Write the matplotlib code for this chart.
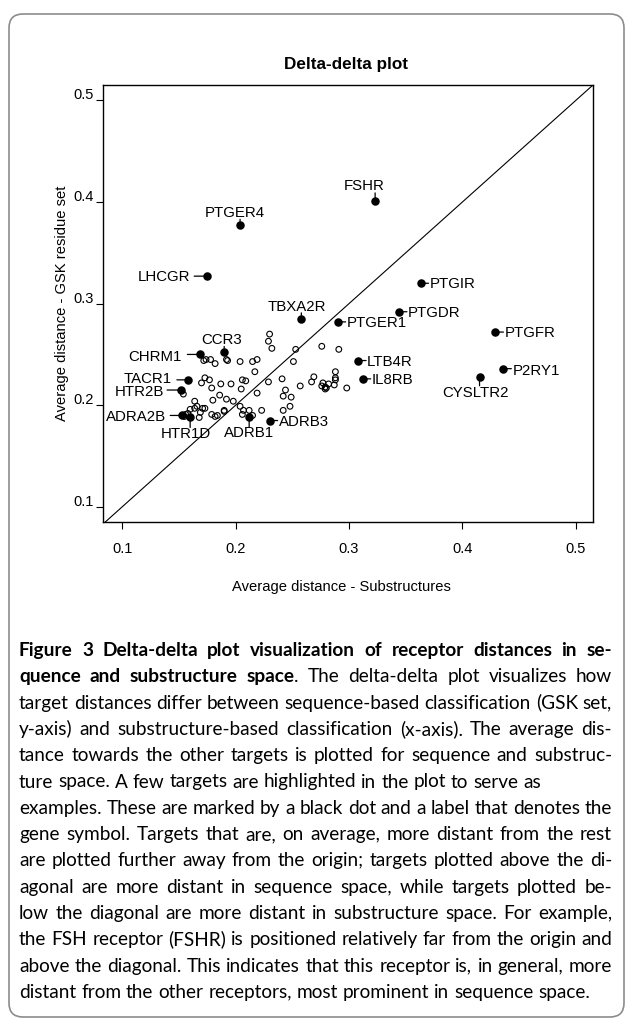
import matplotlib
matplotlib.use("Agg")
import matplotlib.pyplot as plt
from matplotlib.patches import FancyBboxPatch
from matplotlib.transforms import IdentityTransform

# highlighted receptors (x: substructures, y: GSK residue set)
names = ["FSHR", "PTGER4", "LHCGR", "TBXA2R", "CCR3", "CHRM1", "TACR1", "HTR2B",
         "ADRA2B", "HTR1D", "ADRB1", "ADRB3", "PTGER1", "PTGIR", "PTGDR", "PTGFR",
         "LTB4R", "IL8RB", "P2RY1", "CYSLTR2"]
hx = [0.323, 0.204, 0.175, 0.258, 0.190, 0.169, 0.158, 0.152,
      0.153, 0.160, 0.212, 0.230, 0.290, 0.363, 0.344, 0.429,
      0.308, 0.312, 0.436, 0.415]
hy = [0.401, 0.377, 0.327, 0.285, 0.252, 0.250, 0.225, 0.215,
      0.190, 0.188, 0.188, 0.185, 0.282, 0.320, 0.292, 0.272,
      0.244, 0.226, 0.236, 0.228]

# all other receptors
ox = [0.230, 0.229, 0.232, 0.253, 0.276, 0.291, 0.251, 0.172, 0.174, 0.178,
      0.182, 0.192, 0.193, 0.204, 0.215, 0.219, 0.217, 0.173, 0.177, 0.170,
      0.179, 0.187, 0.196, 0.206, 0.209, 0.205, 0.229, 0.241, 0.244, 0.242,
      0.249, 0.257, 0.267, 0.269, 0.276, 0.279, 0.280, 0.282, 0.288, 0.288,
      0.287, 0.298, 0.219, 0.154, 0.164, 0.180, 0.186, 0.192, 0.198, 0.204,
      0.164, 0.160, 0.166, 0.171, 0.173, 0.169, 0.168, 0.156, 0.158, 0.155,
      0.179, 0.182, 0.184, 0.190, 0.190, 0.207, 0.212, 0.215, 0.223, 0.206,
      0.242, 0.248, 0.277, 0.279, 0.288]
oy = [0.270, 0.263, 0.256, 0.255, 0.258, 0.255, 0.243, 0.244, 0.245, 0.245,
      0.241, 0.245, 0.244, 0.243, 0.243, 0.245, 0.233, 0.227, 0.225, 0.222,
      0.217, 0.221, 0.221, 0.225, 0.224, 0.216, 0.223, 0.226, 0.215, 0.209,
      0.208, 0.219, 0.223, 0.228, 0.219, 0.218, 0.217, 0.221, 0.225, 0.233,
      0.220, 0.217, 0.212, 0.211, 0.204, 0.205, 0.210, 0.206, 0.204, 0.199,
      0.197, 0.196, 0.199, 0.197, 0.197, 0.193, 0.188, 0.191, 0.192, 0.189,
      0.191, 0.189, 0.190, 0.195, 0.194, 0.195, 0.195, 0.190, 0.195, 0.191,
      0.195, 0.199, 0.222, 0.216, 0.227]

xticks = [0.1, 0.2, 0.3, 0.4, 0.5]
yticks = [0.1, 0.2, 0.3, 0.4, 0.5]

# label placement in pixels relative to the dot: ha, va, text dx, dy, leader dx, dy
label_pos = {
    "FSHR": ("center", "center", -11, 15, 0, 8),
    "PTGER4": ("center", "center", -5, 12, 0, 6),
    "LHCGR": ("right", "center", -17, -1, -13, 0),
    "TBXA2R": ("center", "center", -4, 12, 0, 6),
    "CCR3": ("center", "center", -3, 12, 0, 6),
    "CHRM1": ("right", "center", -19, -3, -13, 0),
    "TACR1": ("right", "center", -16, 1, -11, 0),
    "HTR2B": ("right", "center", -17, -2, -14, 0),
    "ADRA2B": ("right", "center", -16, -2, -12, 0),
    "HTR1D": ("center", "center", -4, -17, 0, -10),
    "ADRB1": ("center", "center", 0, -16, 0, -10),
    "ADRB3": ("left", "center", 9, -1, 8, 0),
    "PTGER1": ("left", "center", 9, -1, 8, 0),
    "PTGIR": ("left", "center", 9, -1, 8, 0),
    "PTGDR": ("left", "center", 9, -1, 8, 0),
    "PTGFR": ("left", "center", 9, -1, 8, 0),
    "LTB4R": ("left", "center", 9, -1, 8, 0),
    "IL8RB": ("left", "center", 9, -1, 8, 0),
    "P2RY1": ("left", "center", 9, -2, 8, 0),
    "CYSLTR2": ("center", "center", -4, -16, 0, -9),
}

cap_lines = [
    "Figure 3 Delta-delta plot visualization of receptor distances in se-",
    "quence and substructure space. The delta-delta plot visualizes how",
    "target distances differ between sequence-based classification (GSK set,",
    "y-axis) and substructure-based classification (x-axis). The average dis-",
    "tance towards the other targets is plotted for sequence and substruc-",
    "ture space. A few targets are highlighted in the plot to serve as",
    "examples. These are marked by a black dot and a label that denotes the",
    "gene symbol. Targets that are, on average, more distant from the rest",
    "are plotted further away from the origin; targets plotted above the di-",
    "agonal are more distant in sequence space, while targets plotted be-",
    "low the diagonal are more distant in substructure space. For example,",
    "the FSH receptor (FSHR) is positioned relatively far from the origin and",
    "above the diagonal. This indicates that this receptor is, in general, more",
    "distant from the other receptors, most prominent in sequence space.",
]
cap_bold = [len(cap_lines[0]), len("quence and substructure space")] + [0] * 12
cap_justify = [True] * 5 + [False] + [True] * 7 + [False]

W, H = 628, 1019
plt.rcParams['font.family'] = ['Liberation Sans', 'DejaVu Sans']
fig = plt.figure(figsize=(W / 100, H / 100), dpi=100)

# outer rounded frame
frame = FancyBboxPatch((9, H - 1017), 615, 1003, boxstyle="round,pad=0,rounding_size=14",
                       transform=IdentityTransform(), fill=False, ec="#8c8c8c", lw=1.2)
fig.patches.append(frame)

ax = fig.add_axes([103 / W, 1 - 522 / H, 490 / W, 437 / H])
ax.set_xlim(0.0832, 0.515)
ax.set_ylim(0.0852, 0.515)

ax.axline((0.1, 0.1), slope=1, color="black", lw=0.8)
ax.scatter(ox, oy, s=17, facecolors="none", edgecolors="black", linewidths=0.8, zorder=3)
ax.scatter(hx, hy, s=26, color="black", zorder=4)

for n, x, y in zip(names, hx, hy):
    ha, va, tx, ty, lx, ly = label_pos[n]
    ax.annotate("", xy=(x, y), xytext=(lx, ly), textcoords="offset pixels",
                arrowprops=dict(arrowstyle="-", lw=0.9, color="black", shrinkA=0, shrinkB=0))
    ax.annotate(n, xy=(x, y), xytext=(tx, ty), textcoords="offset pixels",
                ha=ha, va=va, fontsize=10.8)

for s in ax.spines.values():
    s.set_linewidth(1.0)
ax.set_xticks(xticks)
ax.set_yticks(yticks)
ax.set_xticklabels([])
ax.set_yticklabels([])
ax.tick_params(direction="out", length=5, width=0.8)
for v in xticks:
    ax.annotate(f"{v:.1f}", xy=(v, 0), xycoords=("data", "axes fraction"),
                xytext=(0, -27), textcoords="offset pixels", ha="center", va="center",
                fontsize=10.5)
for v in yticks:
    ax.annotate(f"{v:.1f}", xy=(0, v), xycoords=("axes fraction", "data"),
                xytext=(-9, 5), textcoords="offset pixels", ha="right", va="center",
                fontsize=10.5)

fig.text(346 / W, 1 - 64 / H, "Delta-delta plot", ha="center", va="center",
         fontsize=12.3, fontweight="bold")
fig.text(341 / W, 1 - 587 / H, "Average distance - Substructures", ha="center", va="center",
         fontsize=10.6)
fig.text(62 / W, 1 - 303 / H, "Average distance - GSK residue set", ha="center", va="center",
         rotation=90, fontsize=10.6)

# caption, justified word by word
cap_font = "Lato"
renderer = fig.canvas.get_renderer()


def text_w(s, bold, size):
    t = fig.text(0, 0, s, fontsize=size, family=cap_font,
                 fontweight="bold" if bold else "normal")
    w = t.get_window_extent(renderer).width
    t.remove()
    return w


def tokens_of(line, nbold):
    toks = []
    pos = 0
    for w in line.split(" "):
        start, end = pos, pos + len(w)
        if end <= nbold:
            toks.append((w, True, False))
        elif start >= nbold:
            toks.append((w, False, False))
        else:
            k = nbold - start
            toks.append((w[:k], True, False))
            toks.append((w[k:], False, True))
        pos = end + 1
    return toks


left, right = 19, 612
target = right - left
base = 12
nat = [text_w(l, nb > 0, base) for l, nb in zip(cap_lines, cap_bold)]
size = base * target / max(nat)
space_w = text_w("a a", False, size) - text_w("aa", False, size)

for i, (line, nb, just) in enumerate(zip(cap_lines, cap_bold, cap_justify)):
    toks = tokens_of(line, nb)
    widths = [text_w(t, b, size) for t, b, g in toks]
    ngaps = sum(1 for t, b, g in toks[1:] if not g)
    gap = (target - sum(widths)) / ngaps if just else space_w
    x = left
    yb = 1 - (656 + i * 26.3) / H
    for j, ((t, b, g), w) in enumerate(zip(toks, widths)):
        if j > 0 and not g:
            x += gap
        fig.text(x / W, yb, t, fontsize=size, family=cap_font, va="baseline",
                 fontweight="bold" if b else "normal")
        x += w

fig.savefig("out.png", dpi=100)
